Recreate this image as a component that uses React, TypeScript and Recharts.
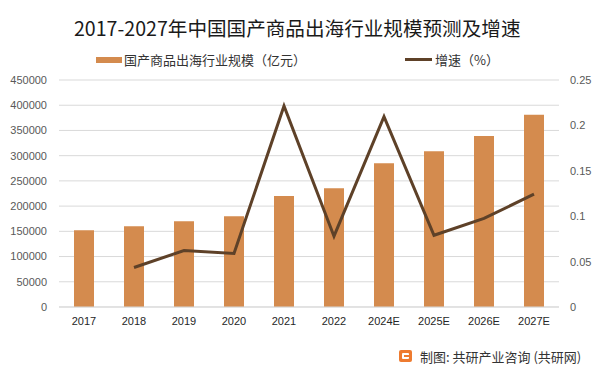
import React from 'react';
import { ComposedChart, Bar, Line, XAxis, YAxis, CartesianGrid } from 'recharts';

const years = ['2017', '2018', '2019', '2020', '2021', '2022', '2024E', '2025E', '2026E', '2027E'];
const scale = [152000, 160000, 170000, 180000, 220000, 235500, 285000, 309000, 339000, 381000];
const growth = [null, 0.0435, 0.0622, 0.0589, 0.2214, 0.078, 0.2096, 0.079, 0.0975, 0.1243];
const leftTicks = [0, 50000, 100000, 150000, 200000, 250000, 300000, 350000, 400000, 450000];
const rightTicks = [0, 0.05, 0.1, 0.15, 0.2, 0.25];

const BAR_COLOR = '#D48B4E';
const LINE_COLOR = '#5E4128';
const FONT = '"Liberation Sans", Arial, "Noto Sans CJK SC", sans-serif';
const CJK = '"Noto Sans CJK SC", sans-serif';

const data = years.map((y, i) => ({
  name: y,
  scale: scale[i],
  growth: growth[i],
}));

export default function App() {
  document.body.style.margin = '0';
  return (
    <div style={{ position: 'relative', width: 604, height: 375, background: '#fff' }}>
      <div
        style={{
          position: 'absolute',
          top: 14,
          left: 74,
          whiteSpace: 'nowrap',
          fontFamily: CJK,
          fontSize: 19.6,
          lineHeight: '28px',
          color: '#1a1a1a',
        }}
      >
        2017-2027年中国国产商品出海行业规模预测及增速
      </div>
      {/* legend */}
      <div style={{ position: 'absolute', top: 50, left: 0, width: 604, height: 19, fontFamily: CJK, fontSize: 13, lineHeight: '19px', color: '#333' }}>
        <div style={{ position: 'absolute', left: 96, top: 7, width: 26, height: 6, background: BAR_COLOR }} />
        <div style={{ position: 'absolute', left: 124, top: 0, whiteSpace: 'nowrap' }}>国产商品出海行业规模（亿元）</div>
        <div style={{ position: 'absolute', left: 405, top: 8, width: 27, height: 3, background: LINE_COLOR }} />
        <div style={{ position: 'absolute', left: 435, top: 0, whiteSpace: 'nowrap' }}>增速（%）</div>
      </div>
      <ComposedChart
        width={604}
        height={375}
        data={data}
        margin={{ top: 80, right: 0, left: 0, bottom: 48 }}
      >
        <CartesianGrid vertical={false} stroke="#d9d9d9" yAxisId="left" />
        <XAxis
          dataKey="name"
          height={20}
          tickLine={false}
          axisLine={{ stroke: '#d9d9d9' }}
          tickMargin={4}
          tick={{ fontSize: 11, fill: '#262626', fontFamily: FONT }}
          interval={0}
        />
        <YAxis
          yAxisId="left"
          width={59}
          domain={[0, 450000]}
          ticks={leftTicks}
          tickLine={false}
          axisLine={false}
          tickMargin={6}
          tick={{ fontSize: 11, fill: '#595959', fontFamily: FONT }}
        />
        <YAxis
          yAxisId="right"
          orientation="right"
          width={45}
          domain={[0, 0.25]}
          ticks={rightTicks}
          tickLine={false}
          axisLine={false}
          tickMargin={5}
          tick={{ fontSize: 11, fill: '#595959', fontFamily: FONT, textAnchor: 'start' }}
        />
        <Bar yAxisId="left" dataKey="scale" fill={BAR_COLOR} barSize={20} isAnimationActive={false} />
        <Line
          yAxisId="right"
          type="linear"
          dataKey="growth"
          stroke={LINE_COLOR}
          strokeWidth={3}
          dot={false}
          isAnimationActive={false}
        />
      </ComposedChart>
      <div style={{ position: 'absolute', left: 399, top: 350, width: 13, height: 12, background: '#EE7B30', borderRadius: 2 }}>
        <div style={{ position: 'absolute', left: 3, top: 3, width: 7, height: 6, background: '#fff', borderRadius: 1 }} />
        <div style={{ position: 'absolute', left: 5, top: 5, width: 5, height: 2, background: '#EE7B30' }} />
      </div>
      <div
        style={{
          position: 'absolute',
          left: 420,
          top: 347,
          fontFamily: CJK,
          fontSize: 13,
          color: '#333',
          whiteSpace: 'nowrap',
        }}
      >
        制图: 共研产业咨询 (共研网)
      </div>
    </div>
  );
}
